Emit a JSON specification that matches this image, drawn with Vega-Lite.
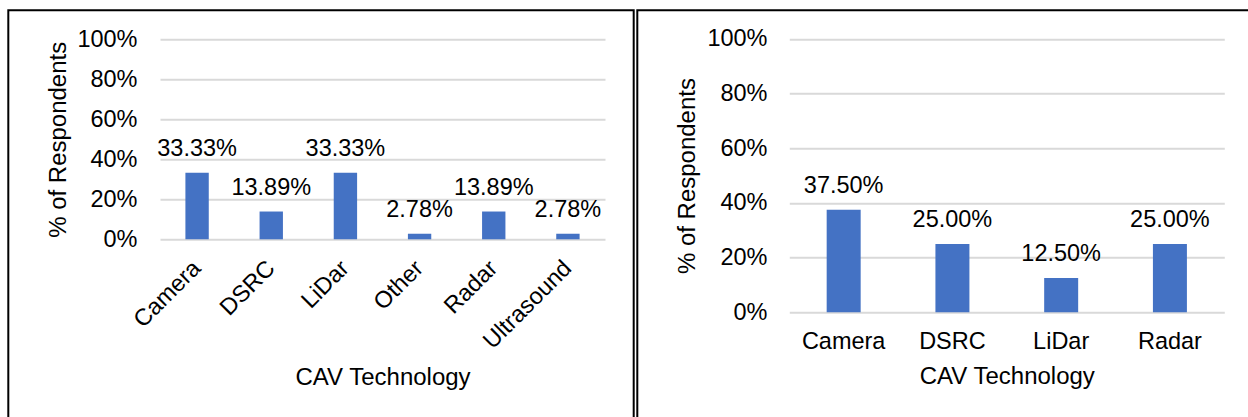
{
  "$schema": "https://vega.github.io/schema/vega-lite/v6.json",
  "background": "white",
  "padding": {"left": 7.3, "top": 9.3, "right": 0, "bottom": 0},
  "autosize": {"type": "pad"},
  "datasets": {
    "survey_a": [
      {"technology": "Camera", "share": 0.3333},
      {"technology": "DSRC", "share": 0.1389},
      {"technology": "LiDar", "share": 0.3333},
      {"technology": "Other", "share": 0.0278},
      {"technology": "Radar", "share": 0.1389},
      {"technology": "Ultrasound", "share": 0.0278}
    ],
    "survey_b": [
      {"technology": "Camera", "share": 0.375},
      {"technology": "DSRC", "share": 0.25},
      {"technology": "LiDar", "share": 0.125},
      {"technology": "Radar", "share": 0.25}
    ]
  },
  "spacing": 1,
  "hconcat": [
    {
      "width": 625.4,
      "height": 430,
      "data": {"name": "survey_a"},
      "encoding": {
        "x": {
          "field": "technology",
          "type": "nominal",
          "sort": null,
          "scale": {"range": [151.7, 596.7], "paddingInner": 0.685, "paddingOuter": 0.3425},
          "axis": {
            "offset": -201,
            "labelAngle": -45,
            "labelAlign": "right",
            "labelBaseline": "middle",
            "labelPadding": 25,
            "title": "CAV Technology",
            "titleY": 145.7,
            "titleBaseline": "alphabetic"
          }
        },
        "y": {
          "field": "share",
          "type": "quantitative",
          "scale": {"domain": [0, 1], "range": [229, 29], "nice": false},
          "axis": {
            "values": [0, 0.2, 0.4, 0.6, 0.8, 1],
            "format": ".0%",
            "offset": -151.7,
            "labelPadding": 23,
            "title": "% of Respondents",
            "titleX": -95,
            "titleBaseline": "alphabetic"
          }
        }
      },
      "layer": [
        {"mark": {"type": "bar", "color": "#4472C4"}},
        {
          "mark": {"type": "text", "baseline": "alphabetic", "align": "center", "dy": -17, "fontSize": 23.5, "color": "#000000"},
          "encoding": {"text": {"field": "share", "type": "quantitative", "format": ".2%"}}
        }
      ]
    },
    {
      "width": 650,
      "height": 430,
      "data": {"name": "survey_b"},
      "encoding": {
        "x": {
          "field": "technology",
          "type": "nominal",
          "sort": null,
          "scale": {"range": [152, 587], "paddingInner": 0.6874, "paddingOuter": 0.3437},
          "axis": {
            "offset": -128,
            "labelAngle": 0,
            "labelAlign": "center",
            "labelBaseline": "alphabetic",
            "labelPadding": 36.7,
            "title": "CAV Technology",
            "titleY": 71,
            "titleBaseline": "alphabetic"
          }
        },
        "y": {
          "field": "share",
          "type": "quantitative",
          "scale": {"domain": [0, 1], "range": [302, 28.5], "nice": false},
          "axis": {
            "values": [0, 0.2, 0.4, 0.6, 0.8, 1],
            "format": ".0%",
            "offset": -152,
            "labelPadding": 22.3,
            "title": "% of Respondents",
            "titleX": -95,
            "titleBaseline": "alphabetic"
          }
        }
      },
      "layer": [
        {"mark": {"type": "bar", "color": "#4472C4"}},
        {
          "mark": {"type": "text", "baseline": "alphabetic", "align": "center", "dy": -17, "fontSize": 23.5, "color": "#000000"},
          "encoding": {"text": {"field": "share", "type": "quantitative", "format": ".2%"}}
        }
      ]
    }
  ],
  "config": {
    "font": "Liberation Sans",
    "view": {"stroke": "#000000", "strokeWidth": 2, "fill": "white"},
    "axis": {
      "domain": false,
      "ticks": false,
      "tickSize": 0,
      "grid": true,
      "gridColor": "#d9d9d9",
      "gridWidth": 2,
      "labelFont": "Liberation Sans",
      "labelFontSize": 23.5,
      "labelColor": "#000000",
      "labelOverlap": false,
      "titleFont": "Liberation Sans",
      "titleFontSize": 24,
      "titleFontWeight": "normal",
      "titleColor": "#000000"
    },
    "axisX": {"grid": false}
  }
}
